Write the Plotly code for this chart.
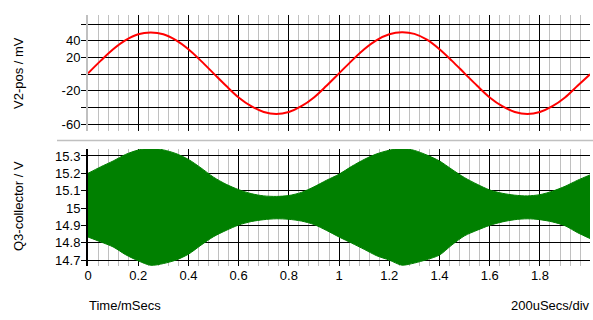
import plotly.graph_objects as go

# Time axis (mSecs)
time_ms = [0.0, 0.05, 0.1, 0.15, 0.2, 0.25, 0.3, 0.35, 0.4, 0.45,
           0.5, 0.55, 0.6, 0.65, 0.7, 0.75, 0.8, 0.85, 0.9, 0.95,
           1.0, 1.05, 1.1, 1.15, 1.2, 1.25, 1.3, 1.35, 1.4, 1.45,
           1.5, 1.55, 1.6, 1.65, 1.7, 1.75, 1.8, 1.85, 1.9, 1.95, 2.0]

# V2-pos (mV)
v2_pos = [1, 16, 30, 41, 48, 50, 48, 41, 30, 16,
          1, -14, -28, -38.5, -45.5, -48, -45.5, -38.5, -28, -14,
          1, 16, 30, 41, 48, 50.5, 48.5, 41.5, 30, 16,
          1, -14, -28, -38.5, -45.5, -48, -45.5, -38.5, -28, -14, 0]

# Q3-collector envelope (V)
q3_upper = [15.200, 15.237, 15.271, 15.309, 15.334, 15.344, 15.335, 15.314, 15.280, 15.231,
            15.178, 15.137, 15.106, 15.083, 15.070, 15.067, 15.072, 15.090, 15.122, 15.160,
            15.195, 15.240, 15.280, 15.312, 15.333, 15.344, 15.332, 15.305, 15.271, 15.222,
            15.175, 15.137, 15.104, 15.085, 15.074, 15.070, 15.077, 15.097, 15.125, 15.160, 15.191]
q3_lower = [14.833, 14.805, 14.776, 14.731, 14.696, 14.670, 14.680, 14.700, 14.734, 14.786,
            14.835, 14.871, 14.902, 14.922, 14.933, 14.938, 14.935, 14.925, 14.905, 14.871,
            14.833, 14.798, 14.762, 14.725, 14.700, 14.671, 14.683, 14.703, 14.729, 14.788,
            14.840, 14.872, 14.900, 14.920, 14.933, 14.938, 14.933, 14.920, 14.898, 14.858, 14.824]

x_tickvals = [0, 0.2, 0.4, 0.6, 0.8, 1.0, 1.2, 1.4, 1.6, 1.8]
x_ticktext = ["0", "0.2", "0.4", "0.6", "0.8", "1", "1.2", "1.4", "1.6", "1.8"]
top_tickvals = [60, 40, 20, 0, -20, -40, -60]
top_ticktext = ["", "40", "20", "", "-20", "", "-60"]
bot_tickvals = [15.3, 15.2, 15.1, 15.0, 14.9, 14.8, 14.7]
bot_ticktext = ["15.3", "15.2", "15.1", "15", "14.9", "14.8", "14.7"]

FONT = "Liberation Sans, Arial, sans-serif"
GREY = "#c0c0c0"
GREEN = "#008000"

fig = go.Figure()
fig.add_trace(go.Scatter(x=time_ms, y=v2_pos, mode="lines",
                         line=dict(color="#ff0000", width=2, shape="spline"),
                         xaxis="x", yaxis="y", hoverinfo="skip"))
fig.add_trace(go.Scatter(x=time_ms, y=q3_lower, mode="lines",
                         line=dict(color=GREEN, width=1, shape="spline", smoothing=0.8),
                         xaxis="x2", yaxis="y2", hoverinfo="skip"))
fig.add_trace(go.Scatter(x=time_ms, y=q3_upper, mode="lines",
                         line=dict(color=GREEN, width=1, shape="spline", smoothing=0.8),
                         fill="tonexty", fillcolor=GREEN, xaxis="x2", yaxis="y2", hoverinfo="skip"))

def xaxis_cfg(anchor, labels):
    return dict(range=[0, 1.9995], tickmode="array", tickvals=x_tickvals, ticktext=x_ticktext,
                showgrid=True, gridcolor="black", gridwidth=1, zeroline=False, ticks="",
                minor=dict(dtick=0.04, tick0=0, showgrid=True, gridcolor=GREY, gridwidth=1, ticks=""),
                tickfont=dict(family=FONT, size=13, color="black"),
                domain=[0, 1], anchor=anchor, showticklabels=labels, showline=False)

def yaxis_cfg(domain, rng, vals, text, linecolor, anchor):
    return dict(domain=domain, range=rng, tickmode="array", tickvals=vals, ticktext=text,
                showgrid=True, gridcolor="black", gridwidth=1, zeroline=False,
                ticks="outside", ticklen=5, tickcolor="black", ticklabelstandoff=-2,
                showline=True, linecolor=linecolor, linewidth=2,
                tickfont=dict(family=FONT, size=13, color="black"), anchor=anchor)

fig.update_layout(
    width=593, height=320,
    margin=dict(l=88, r=3, t=15, b=54),
    paper_bgcolor="white", plot_bgcolor="white",
    showlegend=False,
    xaxis=xaxis_cfg("y", False),
    yaxis=yaxis_cfg([0.5378, 1], [-68.4, 71.2], top_tickvals, top_ticktext, GREY, "x"),
    xaxis2=dict(xaxis_cfg("y2", True), matches="x"),
    yaxis2=yaxis_cfg([0, 0.4661], [14.666, 15.34], bot_tickvals, bot_ticktext, "black", "x2"),
)

def px_x(p):
    return (p - 88) / 502.0

def px_y(p):
    return (266 - p) / 251.0

annots = [
    dict(text="V2-pos / mV", x=px_x(18), y=px_y(73), textangle=-90, xanchor="center", yanchor="middle"),
    dict(text="Q3-collector / V", x=px_x(18), y=px_y(206), textangle=-90, xanchor="center", yanchor="middle"),
    dict(text="Time/mSecs", x=px_x(88), y=px_y(305.5), xanchor="left", yanchor="middle"),
    dict(text="200uSecs/div", x=px_x(591), y=px_y(305.5), xanchor="right", yanchor="middle"),
]
for a in annots:
    fig.add_annotation(xref="paper", yref="paper", showarrow=False,
                       font=dict(family=FONT, size=13, color="black"), borderpad=0, **a)

# separator line between panels
fig.add_shape(type="line", xref="paper", yref="paper", x0=px_x(57), x1=px_x(593),
              y0=px_y(140.5), y1=px_y(140.5), line=dict(color=GREY, width=1.5))

fig.write_html("out.html")
